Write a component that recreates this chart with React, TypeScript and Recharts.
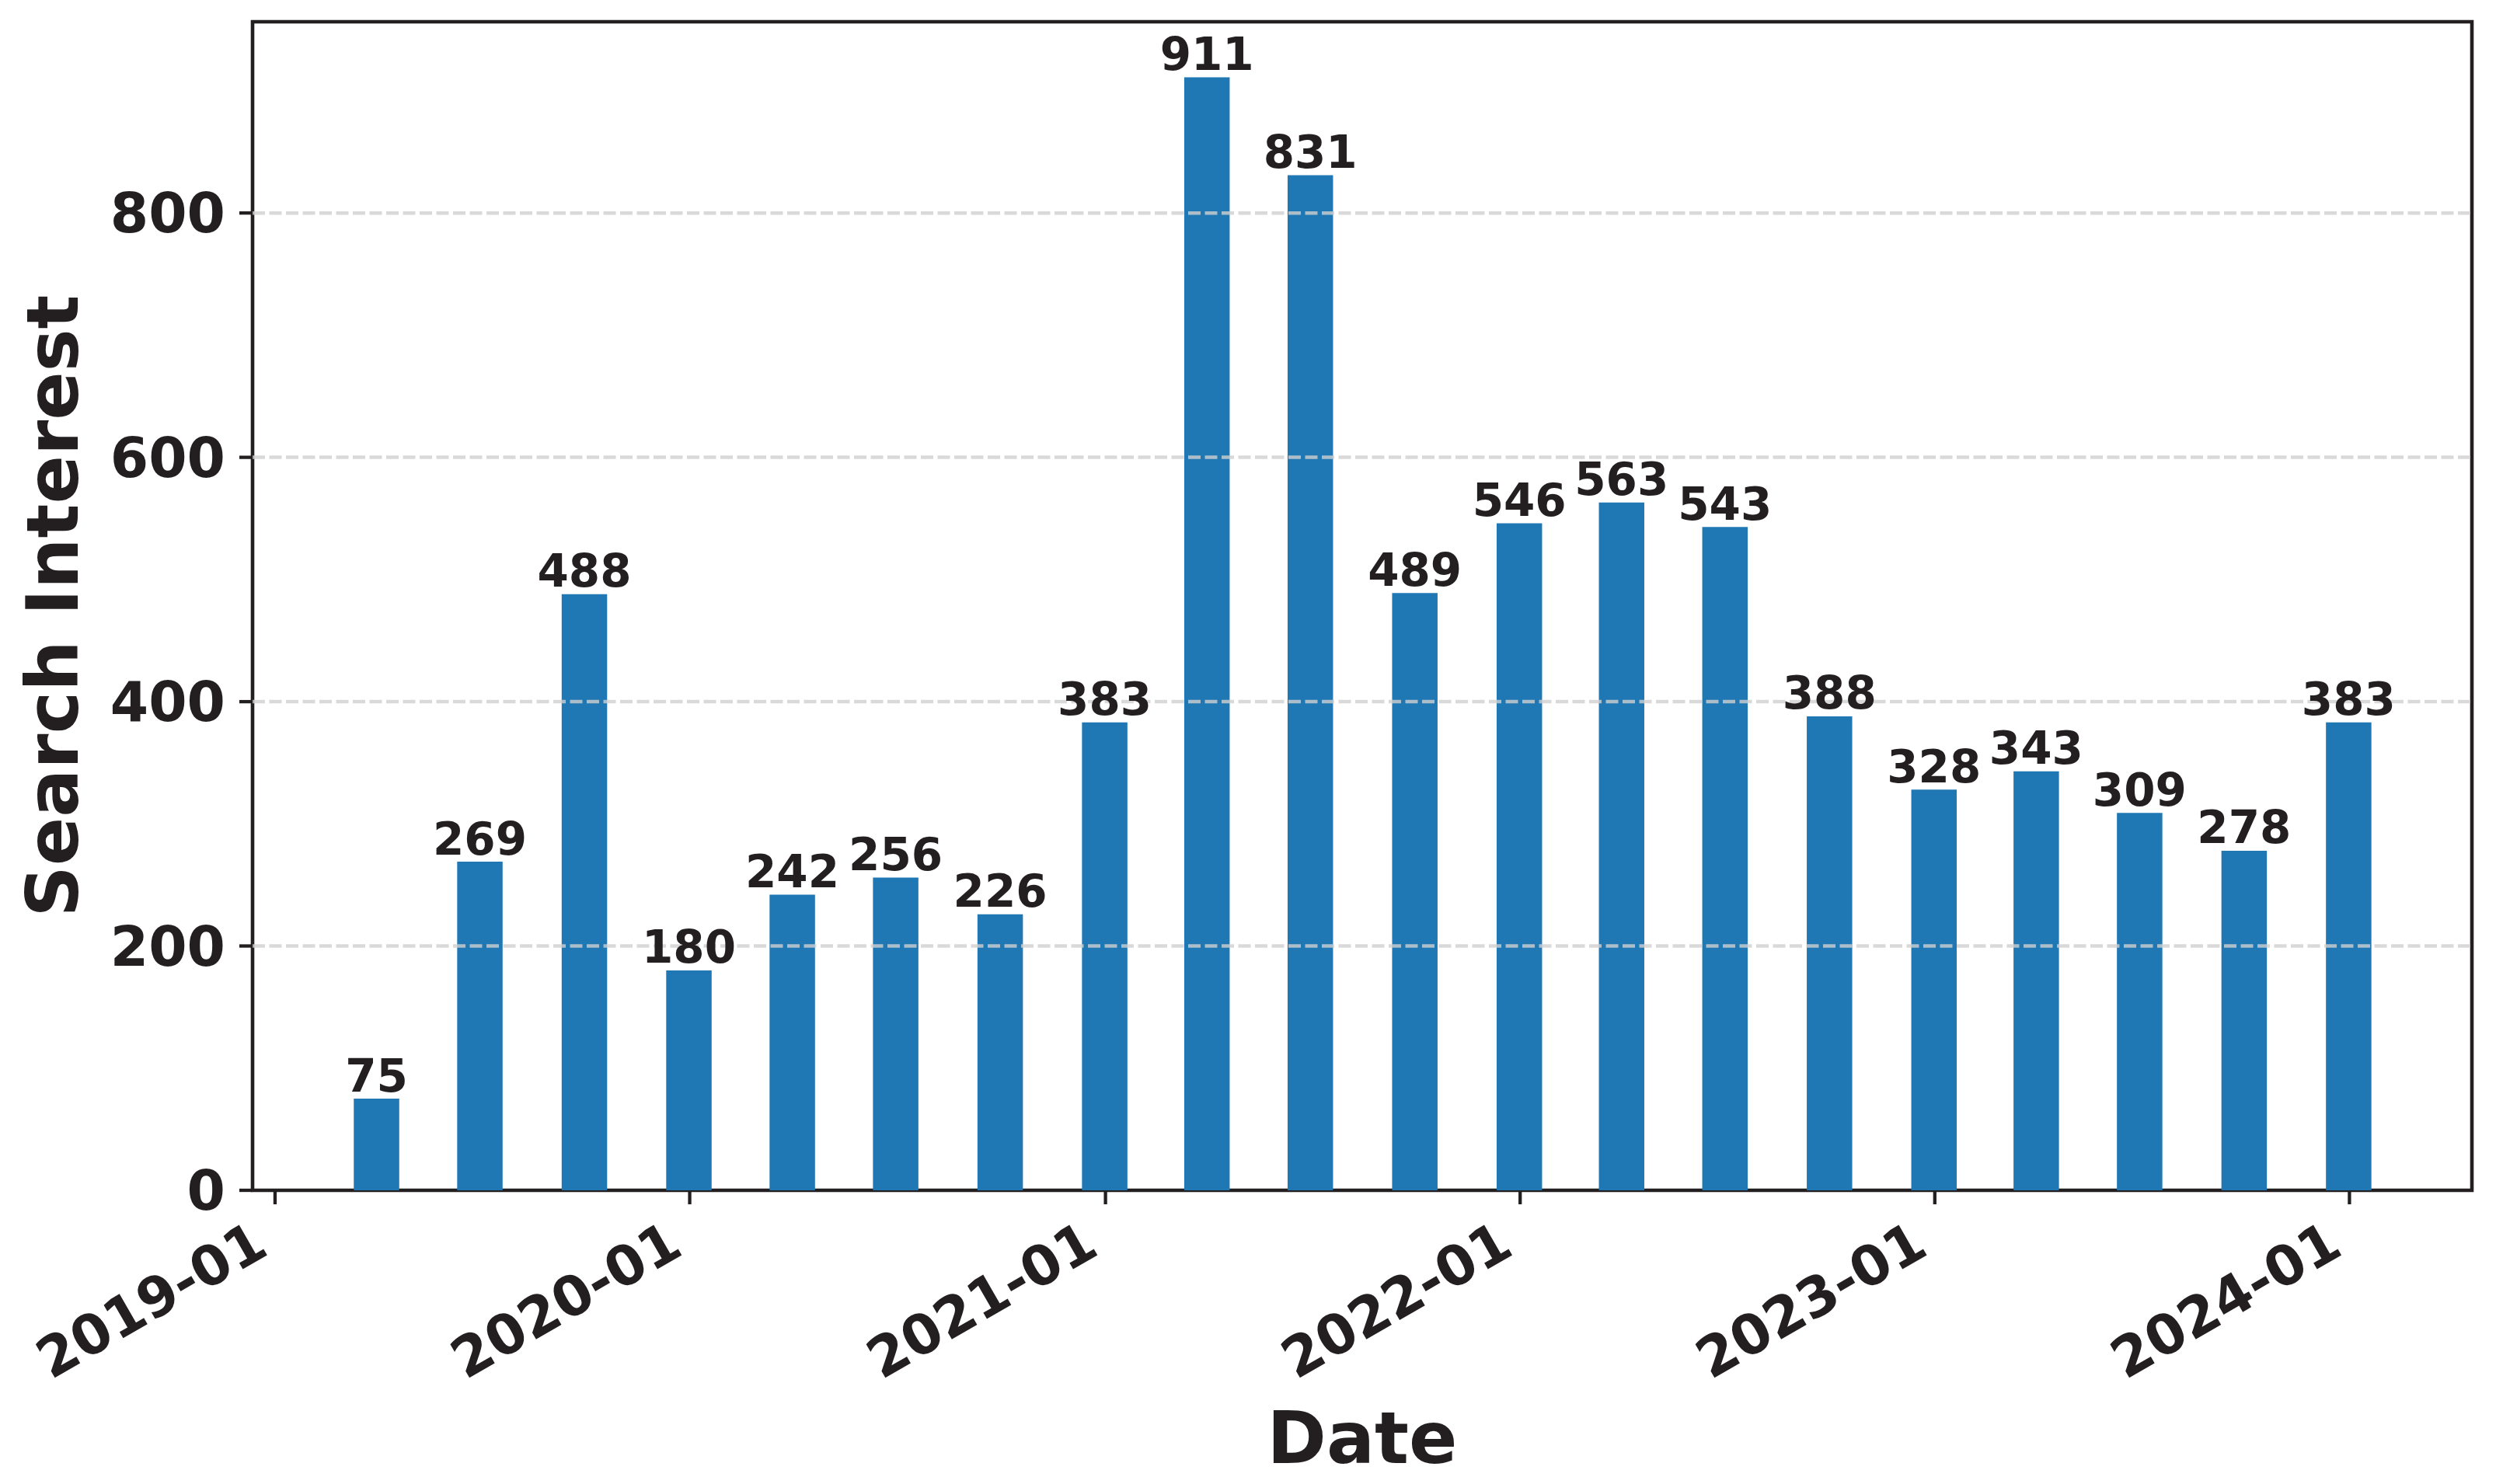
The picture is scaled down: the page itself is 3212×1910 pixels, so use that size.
import React from 'react';
import { BarChart, Bar, XAxis, YAxis, LabelList, ReferenceLine, ReferenceArea } from 'recharts';

// quarterly search interest (quarter end dates)
const quarterEnds = [
  '2019-03-31', '2019-06-30', '2019-09-30', '2019-12-31',
  '2020-03-31', '2020-06-30', '2020-09-30', '2020-12-31',
  '2021-03-31', '2021-06-30', '2021-09-30', '2021-12-31',
  '2022-03-31', '2022-06-30', '2022-09-30', '2022-12-31',
  '2023-03-31', '2023-06-30', '2023-09-30', '2023-12-31',
];
const searchInterest = [75, 269, 488, 180, 242, 256, 226, 383, 911, 831, 489, 546, 563, 543, 388, 328, 343, 309, 278, 383];
const yearLabels = ['2019-01', '2020-01', '2021-01', '2022-01', '2023-01', '2024-01'];
const yTicks = [0, 200, 400, 600, 800];

const W = 3212;
const H = 1910;
const M = { top: 28, right: 31, left: 0, bottom: 0 };
const Y_AXIS_W = 325;
const X_AXIS_H = 378;
const PLOT_W = W - M.right - Y_AXIS_W;
const PLOT_H = H - M.top - X_AXIS_H;

const DAY = 86400000;
const BAR_DAYS = 40;
const INK = '#231f20';
const FONT = '"DejaVu Sans", sans-serif';

const toTime = (s: string) => Date.parse(s + 'T00:00:00Z');

const data = quarterEnds.map((d, i) => ({ date: toTime(d), value: searchInterest[i] }));
const xTicks = yearLabels.map((l) => toTime(l + '-01'));

// autoscale like matplotlib: 5% margin around the bar extents
const lo = data[0].date - (BAR_DAYS / 2) * DAY;
const hi = data[data.length - 1].date + (BAR_DAYS / 2) * DAY;
const pad = (hi - lo) * 0.05;
const xDomain = [lo - pad, hi + pad];
const yMax = Math.max(...searchInterest) * 1.05;
const barPx = (PLOT_W * BAR_DAYS * DAY) / (xDomain[1] - xDomain[0]);

const fmtMonth = (t: number) => {
  const d = new Date(t);
  return `${d.getUTCFullYear()}-${String(d.getUTCMonth() + 1).padStart(2, '0')}`;
};

const DateTick = (props: any) => {
  const { x, y, payload } = props;
  return (
    <text
      transform={`translate(${x - 6},${y + 61}) rotate(-30)`}
      textAnchor="end"
      fontFamily={FONT}
      fontWeight="bold"
      fontSize={71}
      fill={INK}
    >
      {fmtMonth(payload.value)}
    </text>
  );
};

const ValueLabel = (props: any) => {
  const { x, y, width, value } = props;
  return (
    <text x={x + width / 2} y={y - 9.5} textAnchor="middle" fontFamily={FONT} fontWeight="bold" fontSize={58} fill={INK}>
      {value}
    </text>
  );
};

const YTitle = () => (
  <text
    transform={`translate(100,${M.top + PLOT_H / 2}) rotate(-90)`}
    textAnchor="middle"
    fontFamily={FONT}
    fontWeight="bold"
    fontSize={92}
    fill={INK}
  >
    Search Interest
  </text>
);

const XTitle = () => (
  <text x={Y_AXIS_W + PLOT_W / 2} y={1883} textAnchor="middle" fontFamily={FONT} fontWeight="bold" fontSize={92} fill={INK}>
    Date
  </text>
);

export default function App() {
  return (
    <div style={{ position: 'absolute', left: 0, top: 0, width: W, height: H, background: '#fff' }}>
      <BarChart width={W} height={H} data={data} margin={M} barSize={barPx}>
        <XAxis
          dataKey="date"
          type="number"
          domain={xDomain}
          ticks={xTicks}
          height={X_AXIS_H}
          axisLine={false}
          tickLine={{ stroke: INK, strokeWidth: 4.3 }}
          tickSize={18}
          tickMargin={2}
          tick={<DateTick />}
          interval={0}
          label={<XTitle />}
        />
        <YAxis
          type="number"
          domain={[0, yMax]}
          ticks={yTicks}
          width={Y_AXIS_W}
          axisLine={false}
          tickLine={{ stroke: INK, strokeWidth: 4.3 }}
          tickSize={17}
          tickMargin={18}
          tick={{ fontFamily: FONT, fontWeight: 'bold', fontSize: 71, fill: INK }}
          label={<YTitle />}
        />
        <Bar dataKey="value" fill="#1f77b4" isAnimationActive={false}>
          <LabelList dataKey="value" content={<ValueLabel />} />
        </Bar>
        {yTicks.slice(1).map((v) => (
          <ReferenceLine
            key={v}
            y={v}
            stroke="#d0d0d0"
            strokeOpacity={0.8}
            strokeWidth={4.5}
            strokeDasharray="16 5.5"
          />
        ))}
        <ReferenceArea
          x1={xDomain[0]}
          x2={xDomain[1]}
          y1={0}
          y2={yMax}
          fill="none"
          stroke={INK}
          strokeWidth={4.6}
          ifOverflow="visible"
        />
      </BarChart>
    </div>
  );
}
